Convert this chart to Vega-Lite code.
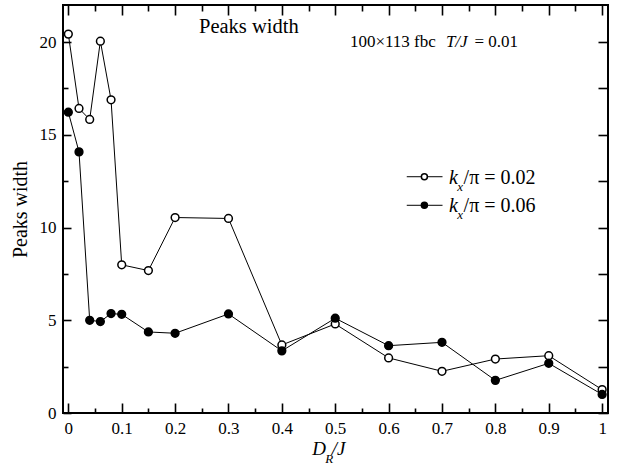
{
  "$schema": "https://vega.github.io/schema/vega-lite/v6.json",
  "width": 545,
  "height": 408,
  "autosize": "none",
  "padding": {"left": 63, "top": 5, "right": 16, "bottom": 59},
  "config": {
    "view": {"stroke": "black", "strokeWidth": 2},
    "font": "Liberation Serif",
    "axis": {"grid": false, "labelFont": "Liberation Serif", "labelColor": "black", "tickColor": "black", "domain": false, "titleFont": "Liberation Serif", "titleColor": "black", "titleFontWeight": "normal", "labelOverlap": false, "labelFlush": false, "tickWidth": 1.6}
  },
  "data": {
    "values": [
      {"DR": 0, "width": 20.43, "k": "0.02"},
      {"DR": 0.02, "width": 16.42, "k": "0.02"},
      {"DR": 0.04, "width": 15.83, "k": "0.02"},
      {"DR": 0.06, "width": 20.05, "k": "0.02"},
      {"DR": 0.08, "width": 16.89, "k": "0.02"},
      {"DR": 0.1, "width": 7.99, "k": "0.02"},
      {"DR": 0.15, "width": 7.68, "k": "0.02"},
      {"DR": 0.2, "width": 10.54, "k": "0.02"},
      {"DR": 0.3, "width": 10.49, "k": "0.02"},
      {"DR": 0.4, "width": 3.67, "k": "0.02"},
      {"DR": 0.5, "width": 4.8, "k": "0.02"},
      {"DR": 0.6, "width": 2.97, "k": "0.02"},
      {"DR": 0.7, "width": 2.25, "k": "0.02"},
      {"DR": 0.8, "width": 2.91, "k": "0.02"},
      {"DR": 0.9, "width": 3.09, "k": "0.02"},
      {"DR": 1, "width": 1.26, "k": "0.02"},
      {"DR": 0, "width": 16.22, "k": "0.06"},
      {"DR": 0.02, "width": 14.08, "k": "0.06"},
      {"DR": 0.04, "width": 5.0, "k": "0.06"},
      {"DR": 0.06, "width": 4.93, "k": "0.06"},
      {"DR": 0.08, "width": 5.36, "k": "0.06"},
      {"DR": 0.1, "width": 5.32, "k": "0.06"},
      {"DR": 0.15, "width": 4.37, "k": "0.06"},
      {"DR": 0.2, "width": 4.3, "k": "0.06"},
      {"DR": 0.3, "width": 5.34, "k": "0.06"},
      {"DR": 0.4, "width": 3.35, "k": "0.06"},
      {"DR": 0.5, "width": 5.11, "k": "0.06"},
      {"DR": 0.6, "width": 3.63, "k": "0.06"},
      {"DR": 0.7, "width": 3.81, "k": "0.06"},
      {"DR": 0.8, "width": 1.76, "k": "0.06"},
      {"DR": 0.9, "width": 2.68, "k": "0.06"},
      {"DR": 1, "width": 1.0, "k": "0.06"}
    ]
  },
  "layer": [
    {
      "mark": {"type": "line", "color": "black", "strokeWidth": 1},
      "encoding": {
        "x": {"field": "DR", "type": "quantitative", "scale": {"domain": [-0.01, 1.011], "nice": false, "zero": false},
          "axis": {"orient": "bottom", "title": null, "values": [0,0.1,0.2,0.3,0.4,0.5,0.6,0.7,0.8,0.9,1],
            "format": "~g", "ticks": false, "labelFont": "Liberation Serif", "labelFontSize": 17, "labelPadding": 7}},
        "y": {"field": "width", "type": "quantitative", "scale": {"domain": [0, 22], "nice": false},
          "axis": {"orient": "left", "title": "Peaks width", "titleFont": "Liberation Serif", "titleFontSize": 20, "titlePadding": 9,
            "values": [0,5,10,15,20], "ticks": false, "labelFont": "Liberation Serif", "labelFontSize": 17, "labelPadding": 7}},
        "detail": {"field": "k"}
      }
    },
    {
      "mark": {"type": "point", "shape": "circle", "size": 60, "strokeWidth": 1.5, "stroke": "black", "opacity": 1},
      "encoding": {
        "x": {"field": "DR", "type": "quantitative", "scale": {"domain": [-0.01, 1.011], "nice": false, "zero": false},
          "axis": {"orient": "top", "title": null, "labels": false, "values": [0,0.1,0.2,0.3,0.4,0.5,0.6,0.7,0.8,0.9,1], "tickSize": -10}},
        "y": {"field": "width", "type": "quantitative", "scale": {"domain": [0, 22], "nice": false},
          "axis": {"orient": "right", "title": null, "labels": false, "values": [0,2.5,5,7.5,10,12.5,15,17.5,20], "tickSize": -10}},
        "fill": {"field": "k", "type": "nominal", "scale": {"domain": ["0.02", "0.06"], "range": ["white", "black"]}, "legend": null}
      }
    },
    {
      "data": {"values": [{}]},
      "mark": {"type": "rule", "color": "black", "strokeWidth": 1},
      "encoding": {
        "x": {"datum": 0.634, "type": "quantitative", "scale": {"domain": [-0.01, 1.011], "nice": false, "zero": false},
          "axis": {"orient": "bottom", "title": null, "labels": false, "values": [0,0.1,0.2,0.3,0.4,0.5,0.6,0.7,0.8,0.9,1], "tickSize": -10}},
        "x2": {"datum": 0.701},
        "y": {"datum": 12.74, "type": "quantitative", "scale": {"domain": [0, 22], "nice": false},
          "axis": {"orient": "left", "title": null, "labels": false, "values": [0,5,10,15,20], "tickSize": -8}}
      }
    },
    {
      "data": {"values": [{}]},
      "mark": {"type": "rule", "color": "black", "strokeWidth": 1},
      "encoding": {
        "x": {"datum": 0.634, "type": "quantitative", "scale": {"domain": [-0.01, 1.011], "nice": false, "zero": false},
          "axis": {"orient": "bottom", "title": null, "labels": false, "values": [0.05,0.15,0.25,0.35,0.45,0.55,0.65,0.75,0.85,0.95], "tickSize": -5}},
        "x2": {"datum": 0.701},
        "y": {"datum": 11.2, "type": "quantitative", "scale": {"domain": [0, 22], "nice": false},
          "axis": {"orient": "left", "title": null, "labels": false, "values": [2.5,7.5,12.5,17.5], "tickSize": -5}}
      }
    },
    {
      "data": {"values": [{}]},
      "mark": {"type": "point", "shape": "circle", "size": 36, "strokeWidth": 1.5, "stroke": "black", "fill": "white", "opacity": 1},
      "encoding": {
        "x": {"datum": 0.667, "type": "quantitative", "scale": {"domain": [-0.01, 1.011], "nice": false, "zero": false},
          "axis": {"orient": "top", "title": null, "labels": false, "values": [0.05,0.15,0.25,0.35,0.45,0.55,0.65,0.75,0.85,0.95], "tickSize": -6}},
        "y": {"datum": 12.74, "type": "quantitative", "scale": {"domain": [0, 22], "nice": false}, "axis": null}
      }
    },
    {
      "data": {"values": [{}]},
      "mark": {"type": "point", "shape": "circle", "size": 36, "strokeWidth": 1.5, "stroke": "black", "fill": "black", "opacity": 1},
      "encoding": {
        "x": {"datum": 0.667, "type": "quantitative", "scale": {"domain": [-0.01, 1.011], "nice": false, "zero": false}, "axis": null},
        "y": {"datum": 11.2, "type": "quantitative", "scale": {"domain": [0, 22], "nice": false}, "axis": null}
      }
    },
    {
      "data": {"values": [{"yv": 12.33}, {"yv": 10.82}]},
      "mark": {"type": "text", "text": "k", "font": "Liberation Serif", "fontStyle": "italic", "fontSize": 20, "align": "left", "baseline": "alphabetic", "color": "black"},
      "encoding": {
        "x": {"datum": 0.713, "type": "quantitative", "scale": {"domain": [-0.01, 1.011], "nice": false, "zero": false}, "axis": null},
        "y": {"field": "yv", "type": "quantitative", "scale": {"domain": [0, 22], "nice": false}, "axis": null}
      }
    },
    {
      "data": {"values": [{"yv": 12.33}, {"yv": 10.82}]},
      "mark": {"type": "text", "text": "x", "font": "Liberation Serif", "fontStyle": "italic", "fontSize": 13, "align": "left", "baseline": "alphabetic", "dy": 7, "color": "black"},
      "encoding": {
        "x": {"datum": 0.7285, "type": "quantitative", "scale": {"domain": [-0.01, 1.011], "nice": false, "zero": false}, "axis": null},
        "y": {"field": "yv", "type": "quantitative", "scale": {"domain": [0, 22], "nice": false}, "axis": null}
      }
    },
    {
      "data": {"values": [{"yv": 12.33, "label": "/π = 0.02"}, {"yv": 10.82, "label": "/π = 0.06"}]},
      "mark": {"type": "text", "font": "Liberation Serif", "fontSize": 20, "align": "left", "baseline": "alphabetic", "color": "black"},
      "encoding": {
        "x": {"datum": 0.7405, "type": "quantitative", "scale": {"domain": [-0.01, 1.011], "nice": false, "zero": false}, "axis": null},
        "y": {"field": "yv", "type": "quantitative", "scale": {"domain": [0, 22], "nice": false}, "axis": null},
        "text": {"field": "label"}
      }
    },
    {
      "data": {"values": [{}]},
      "mark": {"type": "text", "text": "Peaks width", "font": "Liberation Serif", "fontSize": 20.5, "align": "left", "baseline": "alphabetic", "color": "black"},
      "encoding": {
        "x": {"datum": 0.2448, "type": "quantitative", "scale": {"domain": [-0.01, 1.011], "nice": false, "zero": false}, "axis": null},
        "y": {"datum": 20.47, "type": "quantitative", "scale": {"domain": [0, 22], "nice": false}, "axis": null}
      }
    },
    {
      "data": {"values": [{}]},
      "mark": {"type": "text", "text": "100×113 fbc", "font": "Liberation Serif", "fontSize": 17, "align": "left", "baseline": "alphabetic", "color": "black"},
      "encoding": {
        "x": {"datum": 0.5275, "type": "quantitative", "scale": {"domain": [-0.01, 1.011], "nice": false, "zero": false}, "axis": null},
        "y": {"datum": 19.71, "type": "quantitative", "scale": {"domain": [0, 22], "nice": false}, "axis": null}
      }
    },
    {
      "data": {"values": [{}]},
      "mark": {"type": "text", "text": "T/J", "font": "Liberation Serif", "fontStyle": "italic", "fontSize": 17, "align": "left", "baseline": "alphabetic", "color": "black"},
      "encoding": {
        "x": {"datum": 0.7073, "type": "quantitative", "scale": {"domain": [-0.01, 1.011], "nice": false, "zero": false}, "axis": null},
        "y": {"datum": 19.71, "type": "quantitative", "scale": {"domain": [0, 22], "nice": false}, "axis": null}
      }
    },
    {
      "data": {"values": [{}]},
      "mark": {"type": "text", "text": "= 0.01", "font": "Liberation Serif", "fontSize": 17, "align": "left", "baseline": "alphabetic", "color": "black"},
      "encoding": {
        "x": {"datum": 0.7609, "type": "quantitative", "scale": {"domain": [-0.01, 1.011], "nice": false, "zero": false}, "axis": null},
        "y": {"datum": 19.71, "type": "quantitative", "scale": {"domain": [0, 22], "nice": false}, "axis": null}
      }
    },
    {
      "data": {"values": [{}]},
      "mark": {"type": "text", "text": "D", "font": "Liberation Serif", "fontStyle": "italic", "fontSize": 19, "align": "left", "baseline": "alphabetic", "color": "black"},
      "encoding": {
        "x": {"datum": 0.4569, "type": "quantitative", "scale": {"domain": [-0.01, 1.011], "nice": false, "zero": false}, "axis": null},
        "y": {"datum": -2.28, "type": "quantitative", "scale": {"domain": [0, 22], "nice": false}, "axis": null}
      }
    },
    {
      "data": {"values": [{}]},
      "mark": {"type": "text", "text": "R", "font": "Liberation Serif", "fontStyle": "italic", "fontSize": 13, "align": "left", "baseline": "alphabetic", "dy": 8, "color": "black"},
      "encoding": {
        "x": {"datum": 0.4812, "type": "quantitative", "scale": {"domain": [-0.01, 1.011], "nice": false, "zero": false}, "axis": null},
        "y": {"datum": -2.28, "type": "quantitative", "scale": {"domain": [0, 22], "nice": false}, "axis": null}
      }
    },
    {
      "data": {"values": [{}]},
      "mark": {"type": "text", "text": "/J", "font": "Liberation Serif", "fontStyle": "italic", "fontSize": 19, "align": "left", "baseline": "alphabetic", "color": "black"},
      "encoding": {
        "x": {"datum": 0.4935, "type": "quantitative", "scale": {"domain": [-0.01, 1.011], "nice": false, "zero": false}, "axis": null},
        "y": {"datum": -2.28, "type": "quantitative", "scale": {"domain": [0, 22], "nice": false}, "axis": null}
      }
    }
  ],
  "resolve": {"axis": {"x": "independent", "y": "independent"}}
}
